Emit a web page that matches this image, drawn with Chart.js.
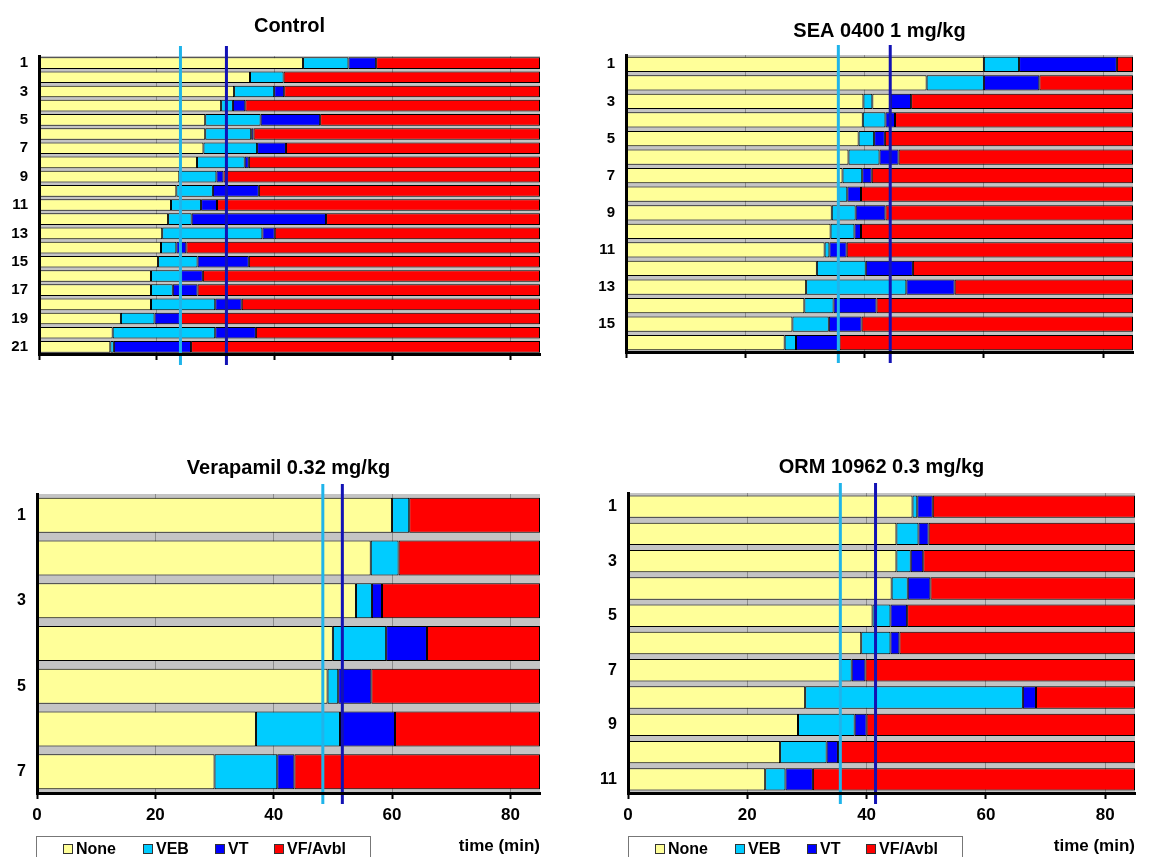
<!DOCTYPE html>
<html>
<head>
<meta charset="utf-8">
<script src="https://cdn.jsdelivr.net/npm/chart.js@4.4.0/dist/chart.umd.min.js"></script>
<style>
    body { margin: 0; background: #fff; width: 1150px; height: 857px; overflow: hidden; position: relative;
           font-family: "Liberation Sans", Arial, sans-serif; }
    .panel { position: absolute; }
    .legend { position: absolute; top: 836px; width: 333px; height: 30px; border: 1px solid #777; border-bottom: none;
              font-weight: bold; font-size: 16px; }
    .legend-item { position: absolute; top: 3px; white-space: nowrap; }
    .legend-item span { display: inline-block; width: 8px; height: 8px; border: 1px solid #333; margin-right: 3px; }
</style>
</head>
<body>
<div class="panel" style="left:0;top:0;width:560px;height:380px"><canvas id="control-chart"></canvas></div>
<div class="panel" style="left:580px;top:0;width:570px;height:380px"><canvas id="sea-chart"></canvas></div>
<div class="panel" style="left:0;top:440px;width:560px;height:417px"><canvas id="verapamil-chart"></canvas></div>
<div class="panel" style="left:580px;top:440px;width:570px;height:417px"><canvas id="orm-chart"></canvas></div>
<div class="legend" id="legend-left" style="left:36px"></div>
<div class="legend" id="legend-right" style="left:628px"></div>

<script>
// end of observation (min)
const END_TIME = 85;
const xTicks = [0, 20, 40, 60, 80];
const seriesNames = ['None', 'VEB', 'VT', 'VF/Avbl'];
const seriesColors = ['#ffff99', '#00ccff', '#0000ff', '#ff0000'];

// time (min) at which each phase ends, one value per animal
const ctrlNone = [44.8, 35.8, 33.1, 30.9, 28.2, 28.2, 27.9, 26.8, 23.8, 23.3, 22.4, 21.9, 20.9, 20.7, 20.2, 19.0, 19.0, 19.0, 13.9, 12.5, 12.1];
const ctrlVeb = [52.5, 41.5, 39.9, 32.9, 37.6, 36.0, 37.0, 34.9, 30.1, 29.5, 27.5, 25.9, 37.9, 23.3, 26.9, 24.1, 22.7, 29.9, 19.6, 29.9, 12.7];
const ctrlVt = [57.2, 41.5, 41.6, 35.0, 47.7, 36.4, 41.9, 35.6, 31.3, 37.3, 30.2, 48.7, 40.0, 25.0, 35.6, 27.8, 26.9, 34.4, 23.9, 36.8, 25.8];
const ctrlMarkers = [24.0, 31.8];

const seaNone = [60.0, 50.4, 39.8, 39.7, 39.0, 37.3, 36.3, 35.6, 34.5, 34.3, 33.3, 32.0, 30.2, 29.9, 27.9, 26.6];
const seaVeb = [65.9, 60.0, 41.3, 43.5, 41.6, 42.5, 39.6, 37.1, 38.5, 38.3, 34.1, 40.2, 47.0, 34.8, 34.0, 28.5];
// animal 3 goes back to no arrhythmia after VEB
const seaNoneAgain = [null, null, 44.4, null, null, null, null, null, null, null, null, null, null, null, null, null];
const seaVt = [82.3, 69.3, 47.8, 45.1, 43.4, 45.7, 41.2, 39.4, 43.5, 39.4, 37.0, 48.1, 55.1, 42.0, 39.5, 35.8];
const seaMarkers = [35.6, 44.3];

const verNone = [60.0, 56.4, 53.9, 50.0, 49.1, 37.0, 30.0];
const verVeb = [62.9, 61.1, 56.6, 59.0, 50.9, 51.2, 40.6];
const verVt = [62.9, 61.1, 58.3, 65.9, 56.5, 60.5, 43.5];
const verMarkers = [48.3, 51.6];

const ormNone = [47.7, 45.0, 45.0, 44.2, 41.0, 39.1, 35.6, 29.7, 28.5, 25.5, 23.0];
const ormVeb = [48.5, 48.7, 47.4, 46.9, 44.0, 44.0, 37.5, 66.2, 38.0, 33.3, 26.4];
const ormVt = [51.1, 50.4, 49.5, 50.7, 46.8, 45.5, 39.8, 68.4, 40.0, 35.2, 31.0];
const ormMarkers = [35.6, 41.5];

const markerColors = ['#1fb4ea', '#1212b4'];

const plotBackground = {
    id: 'plotBackground',
    beforeDraw(chart) {
        const {ctx, chartArea} = chart;
        ctx.save();
        ctx.fillStyle = '#c4c4c4';
        ctx.fillRect(chartArea.left, chartArea.top, chartArea.width, chartArea.height);
        ctx.restore();
    }
};

const markerLines = {
    id: 'markerLines',
    afterDatasetsDraw(chart, args, opts) {
        const {ctx, chartArea, scales} = chart;
        ctx.save();
        ctx.lineWidth = 3;
        opts.values.forEach((value, i) => {
            const x = scales.x.getPixelForValue(value);
            ctx.strokeStyle = markerColors[i];
            ctx.beginPath();
            ctx.moveTo(x, chartArea.top - 10);
            ctx.lineTo(x, chartArea.bottom + 11);
            ctx.stroke();
        });
        ctx.restore();
    }
};

function floatingDataset(label, color, starts, ends) {
    return {
        label: label,
        data: ends.map((end, i) => (end === null ? null : [starts[i], end])),
        backgroundColor: color,
        borderColor: '#000',
        borderWidth: 1,
        borderSkipped: false,
        grouped: false,
        barPercentage: 0.82,
        categoryPercentage: 1
    };
}

function drawPanel(id, title, none, veb, vt, markers, layout, noneAgain) {
    const labels = none.map((v, i) => String(i + 1));
    const vtStart = veb.map((v, i) => (noneAgain && noneAgain[i] !== null ? noneAgain[i] : v));
    const datasets = [
        floatingDataset(seriesNames[0], seriesColors[0], none.map(() => 0), none),
        floatingDataset(seriesNames[1], seriesColors[1], none, veb),
        floatingDataset(seriesNames[2], seriesColors[2], vtStart, vt),
        floatingDataset(seriesNames[3], seriesColors[3], vt, vt.map(() => END_TIME))
    ];
    if (noneAgain) {
        datasets.push(floatingDataset(seriesNames[0], seriesColors[0], veb, noneAgain));
    }

    new Chart(document.getElementById(id), {
        type: 'bar',
        data: {labels: labels, datasets: datasets},
        plugins: [plotBackground, markerLines],
        options: {
            indexAxis: 'y',
            animation: false,
            responsive: true,
            maintainAspectRatio: false,
            layout: {padding: {right: layout.right}},
            scales: {
                x: {
                    min: 0,
                    max: END_TIME,
                    afterBuildTicks: (scale) => {
                        scale.ticks = xTicks.map((v) => ({value: v}));
                    },
                    afterFit: (scale) => {
                        scale.height = layout.xHeight;
                    },
                    grid: {color: '#8c8c8c', tickColor: '#000', tickWidth: 2, tickLength: 6},
                    border: {color: '#000', width: 3, z: 1},
                    ticks: {
                        display: layout.xLabels,
                        color: '#000',
                        padding: 6,
                        font: {family: 'Liberation Sans', size: 17, weight: 'bold'}
                    },
                    title: {
                        display: layout.xLabels,
                        text: 'time (min)',
                        align: 'end',
                        color: '#000',
                        padding: 0,
                        font: {family: 'Liberation Sans', size: 17, weight: 'bold'}
                    }
                },
                y: {
                    afterFit: (scale) => {
                        scale.width = layout.yWidth;
                    },
                    grid: {display: false, drawTicks: false},
                    border: {color: '#000', width: 3, z: 1},
                    ticks: {
                        autoSkip: false,
                        color: '#000',
                        padding: 11,
                        font: {family: 'Liberation Sans', size: layout.yFont, weight: 'bold'},
                        callback: (value, i) => (i % 2 === 0 ? labels[i] : '')
                    }
                }
            },
            plugins: {
                legend: {display: false},
                tooltip: {enabled: false},
                markerLines: {values: markers},
                title: {
                    display: true,
                    text: title,
                    fullSize: false,
                    color: '#000',
                    padding: {top: layout.titleTop, bottom: layout.titleBottom},
                    font: {family: 'Liberation Sans', size: 20, weight: 'bold'}
                }
            }
        }
    });
}

function fillLegend(id) {
    const offsets = [26, 106, 178, 237];
    document.getElementById(id).innerHTML = seriesNames.map((name, i) =>
        `<div class="legend-item" style="left:${offsets[i]}px"><span style="background:${seriesColors[i]}"></span>${name}</div>`
    ).join('');
}

drawPanel('control-chart', 'Control', ctrlNone, ctrlVeb, ctrlVt, ctrlMarkers,
    {right: 20, yWidth: 39, xHeight: 26, titleTop: 14, titleBottom: 18, xLabels: false, yFont: 15});
drawPanel('sea-chart', 'SEA 0400 1 mg/kg', seaNone, seaVeb, seaVt, seaMarkers,
    {right: 17, yWidth: 46, xHeight: 28, titleTop: 19, titleBottom: 12, xLabels: false, yFont: 15}, seaNoneAgain);
drawPanel('verapamil-chart', 'Verapamil 0.32 mg/kg', verNone, verVeb, verVt, verMarkers,
    {right: 20, yWidth: 37, xHeight: 64, titleTop: 16, titleBottom: 14, xLabels: true, yFont: 16});
drawPanel('orm-chart', 'ORM 10962 0.3 mg/kg', ormNone, ormVeb, ormVt, ormMarkers,
    {right: 15, yWidth: 48, xHeight: 64, titleTop: 15, titleBottom: 14, xLabels: true, yFont: 16});

fillLegend('legend-left');
fillLegend('legend-right');
</script>
</body>
</html>
